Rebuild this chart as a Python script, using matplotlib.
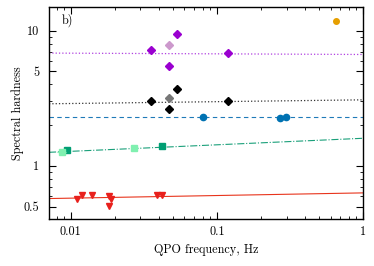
import matplotlib
matplotlib.use('Agg')
import matplotlib.pyplot as plt
from matplotlib.ticker import FixedLocator, NullFormatter

plt.rcParams['font.family'] = ['cmr10', 'DejaVu Serif']
plt.rcParams['axes.formatter.use_mathtext'] = True

# QPO frequency (Hz) and spectral hardness per group
purple_f = [0.0357, 0.053, 0.047, 0.1195]
purple_h = [7.23, 9.4, 5.5, 6.83]
plum_f = [0.047]
plum_h = [7.8]
black_f = [0.0357, 0.047, 0.053, 0.1195]
black_h = [3.03, 2.63, 3.68, 3.01]
grey_f = [0.047]
grey_h = [3.2]
blue_f = [0.0806, 0.269, 0.298]
blue_h = [2.29, 2.27, 2.29]
orange_f = [0.653]
orange_h = [11.9]
green_f = [0.0095, 0.0422]
green_h = [1.31, 1.40]
mint_f = [0.0087, 0.0272]
mint_h = [1.26, 1.35]
mint_ferr = [0.0006, 0.0015]
mint_herr = [0.05, 0.07]
red_f = [0.011, 0.012, 0.014, 0.0183, 0.0189, 0.0182, 0.039, 0.042]
red_h = [0.566, 0.606, 0.606, 0.596, 0.573, 0.508, 0.606, 0.606]

# fitted trend lines (value at left and right edge)
line_x = [0.0071, 1.0]
purple_fit = [6.83, 6.67]
black_fit = [2.88, 3.08]
blue_fit = [2.29, 2.29]
green_fit = [1.26, 1.60]
red_fit = [0.573, 0.631]

fig = plt.figure(figsize=(3.74, 2.66), dpi=100)
ax = fig.add_axes([0.131, 0.177, 0.8396, 0.797])
ax.set_xscale('log')
ax.set_yscale('log')

ax.plot(line_x, purple_fit, ls=':', color='#b040e0', lw=0.9)
ax.plot(line_x, black_fit, ls=':', color='#333333', lw=0.9)
ax.plot(line_x, blue_fit, ls=(0, (4, 3)), color='#1f7ab8', lw=0.8)
ax.plot(line_x, green_fit, ls='-.', color='#1aa07a', lw=0.8)
ax.plot(line_x, red_fit, ls='-', color='#e8341c', lw=0.8)

ax.plot(purple_f, purple_h, 'D', color='#9a00d0', ms=4.5, ls='none')
ax.plot(plum_f, plum_h, 'D', color='#cc99cc', ms=4.5, ls='none')
ax.plot(black_f, black_h, 'D', color='black', ms=4.5, ls='none')
ax.plot(grey_f, grey_h, 'D', color='#777777', ms=4.5, ls='none')
ax.plot(blue_f, blue_h, 'o', color='#0072b2', ms=4.5, ls='none')
ax.plot(orange_f, orange_h, 'o', color='#e69f00', ms=4, ls='none')
ax.plot(green_f, green_h, 's', color='#009e73', ms=4, ls='none')
ax.errorbar(mint_f, mint_h, xerr=mint_ferr, yerr=mint_herr, fmt='s',
            color='#80f0b0', ms=4, elinewidth=0.8, capsize=0)
ax.plot(red_f, red_h, 'v', color='#e8201c', ms=5, ls='none')

ax.set_xlim(0.0071, 1.0)
ax.set_ylim(0.405, 15)

ax.xaxis.set_major_locator(FixedLocator([0.01, 0.1, 1]))
ax.set_xticklabels(['0.01', '0.1', '1'])
ax.yaxis.set_major_locator(FixedLocator([0.5, 1, 5, 10]))
ax.set_yticklabels(['0.5', '1', '5', '10'])
ax.yaxis.set_minor_formatter(NullFormatter())
ax.xaxis.set_minor_formatter(NullFormatter())
ax.tick_params(which='both', direction='in', top=True, right=True, labelsize=8.8)
ax.tick_params(which='major', length=5, width=0.8)
ax.tick_params(which='minor', length=2.5, width=0.6)
ax.tick_params(axis='y', which='major', pad=7)
ax.tick_params(axis='x', which='major', pad=5)
for s in ax.spines.values():
    s.set_linewidth(1.0)

ax.set_xlabel('QPO frequency, Hz', fontsize=8.8, labelpad=4.5)
ax.set_ylabel('Spectral hardness', fontsize=8.8, labelpad=-0.5)
ax.text(0.04, 0.92, 'b)', transform=ax.transAxes, fontsize=8.8)

fig.savefig('out.png', dpi=100)
